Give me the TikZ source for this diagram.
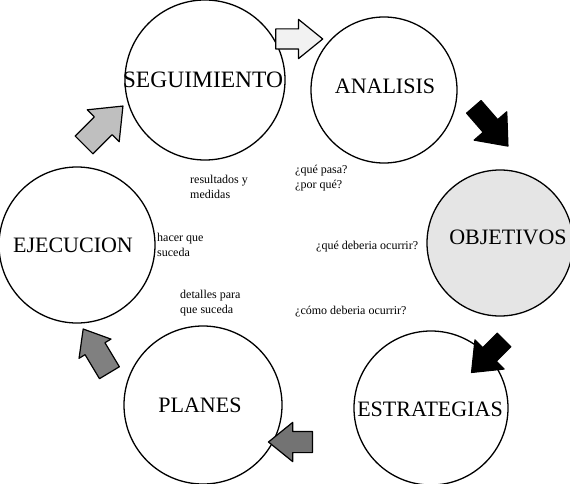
\documentclass[tikz,border=0pt]{standalone}
\usepackage{fontspec}
\setmainfont{Liberation Serif}
\usetikzlibrary{shapes.arrows}
\tikzset{
  stage/.style={circle, draw=black, line width=1.3pt, inner sep=0pt},
  stagelabel/.style={font=\fontsize{22}{26}\selectfont, inner sep=0pt},
  note/.style={font=\fontsize{12}{14.5}\selectfont, align=left, anchor=west, inner sep=0pt},
  blockarrow/.style={single arrow, draw=black, line width=1.2pt, line join=round, inner xsep=0pt,
     single arrow tip angle=78, anchor=center},
}
\begin{document}
\begin{tikzpicture}[x=1pt,y=-1pt]
\useasboundingbox (0,0) rectangle (570,484);
% circles
\node[stage, minimum size=160pt] (seg) at (205,80) {};
\node[stage, minimum size=146pt] (ana) at (384,90) {};
\node[stage, minimum size=146pt, fill=black!10] (obj) at (500,243) {};
\node[stage, minimum size=154pt] (est) at (431,408) {};
\node[stage, minimum size=158pt] (pla) at (203,405) {};
\node[stage, minimum size=156pt] (eje) at (77,245) {};
% labels
\node[stagelabel, font=\fontsize{23.5}{26}\selectfont] (tseg) at (203,80) {SEGUIMIENTO};
\node[stagelabel] (tana) at (385,86) {ANALISIS};
\node[stagelabel] (tobj) at (508,237) {OBJETIVOS};
\node[stagelabel] (test) at (430,409) {ESTRATEGIAS};
\node[stagelabel] (tpla) at (200,405) {PLANES};
\node[stagelabel] (teje) at (73,245) {EJECUCION};
% notes
\node[note] (n1) at (190,187) {resultados y\\medidas};
\node[note] (n2) at (295,178) {¿qué pasa?\\¿por qué?};
\node[note] (n3) at (157,245) {hacer que\\suceda};
\node[note] (n4) at (316,247) {¿qué deberia ocurrir?};
\node[note] (n5) at (180,303) {detalles para\\que suceda};
\node[note] (n6) at (295,312) {¿cómo deberia ocurrir?};
% block arrows
\node[blockarrow, fill=black!5, minimum height=47pt, inner ysep=9.5pt,
      single arrow head extend=9.5pt, rotate=0] (a1) at (293,39) {};
\node[blockarrow, fill=black!25, minimum height=55pt, inner ysep=12pt,
      single arrow head extend=10pt, rotate=45] (a2) at (98,131) {};
\node[blockarrow, fill=black, minimum height=52pt, inner ysep=9pt,
      single arrow head extend=12pt, rotate=-49] (a3) at (487,122) {};
\node[blockarrow, fill=black, minimum height=46pt, inner ysep=9pt,
      single arrow head extend=11pt, rotate=-135] (a4) at (492,352) {};
\node[blockarrow, fill=black!55, minimum height=44pt, inner ysep=10pt,
      single arrow head extend=9pt, rotate=180] (a5) at (297,442) {};
\node[blockarrow, fill=black!50, minimum height=51pt, inner ysep=11pt,
      single arrow head extend=7pt, rotate=121] (a6) at (100,357) {};
\end{tikzpicture}
\end{document}
